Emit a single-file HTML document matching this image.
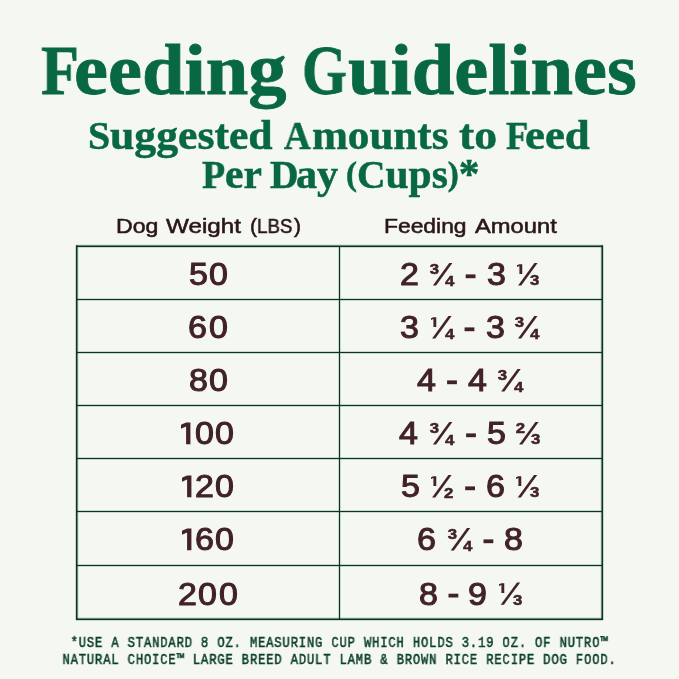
<!DOCTYPE html>
<html>
<head>
<meta charset="utf-8">
<title>Feeding Guidelines</title>
<style>
html,body{margin:0;padding:0;}
body{width:679px;height:679px;background:#f5f7f1;position:relative;overflow:hidden;}
.t{position:absolute;white-space:nowrap;line-height:1;will-change:transform;}
.r{position:absolute;}
.d{font-family:"Liberation Sans",sans-serif;font-weight:400;font-size:30.5px;color:#42222a;-webkit-text-stroke:1.0px #42222a;transform:scaleX(1.115);transform-origin:0 0;}
.fr{font-family:"Liberation Sans",sans-serif;font-weight:700;font-size:15.0px;color:#42222a;-webkit-text-stroke:0.5px #42222a;}
.sl{position:absolute;overflow:visible;}
.fn{position:absolute;will-change:transform;left:0;width:679px;text-align:center;white-space:nowrap;line-height:1;font-family:"Liberation Mono",monospace;font-weight:400;font-size:13.58px;color:#0a3f28;-webkit-text-stroke:0.5px #0a3f28;letter-spacing:0.906px;transform:scale(0.9,1.09);transform-origin:50% 10.40px;}
</style>
</head>
<body>
<div class="t" style="left:41.31px;top:35.98px;font-family:'Liberation Serif';font-weight:700;font-size:70px;-webkit-text-stroke:0.8px #086841;transform:scaleX(0.8872);transform-origin:0 0;color:#086841;">F</div>
<div class="t" style="left:74.47px;top:34.31px;font-family:'Liberation Serif';font-weight:700;font-size:72px;-webkit-text-stroke:0.8px #086841;transform:scaleX(1.0626);transform-origin:0 0;color:#086841;">eeding</div>
<div class="t" style="left:301.73px;top:35.98px;font-family:'Liberation Serif';font-weight:700;font-size:70px;-webkit-text-stroke:0.8px #086841;transform:scaleX(0.8240);transform-origin:0 0;color:#086841;">G</div>
<div class="t" style="left:348.40px;top:34.31px;font-family:'Liberation Serif';font-weight:700;font-size:72px;-webkit-text-stroke:0.8px #086841;transform:scaleX(1.0613);transform-origin:0 0;color:#086841;">uidelines</div>
<div class="t" style="left:88.38px;top:116.62px;font-family:'Liberation Serif';font-weight:700;font-size:39.5px;-webkit-text-stroke:0.5px #086841;transform:scaleX(1.0105);transform-origin:0 0;color:#086841;">S</div>
<div class="t" style="left:110.10px;top:114.95px;font-family:'Liberation Serif';font-weight:700;font-size:41.5px;-webkit-text-stroke:0.5px #086841;transform:scaleX(1.0529);transform-origin:0 0;color:#086841;">uggested</div>
<div class="t" style="left:284.10px;top:116.62px;font-family:'Liberation Serif';font-weight:700;font-size:39.5px;-webkit-text-stroke:0.5px #086841;transform:scaleX(0.9379);transform-origin:0 0;color:#086841;">A</div>
<div class="t" style="left:311.56px;top:114.95px;font-family:'Liberation Serif';font-weight:700;font-size:41.5px;-webkit-text-stroke:0.5px #086841;transform:scaleX(1.0377);transform-origin:0 0;color:#086841;">mounts</div>
<div class="t" style="left:458.80px;top:114.95px;font-family:'Liberation Serif';font-weight:700;font-size:41.5px;-webkit-text-stroke:0.5px #086841;transform:scaleX(1.1000);transform-origin:0 0;color:#086841;">to</div>
<div class="t" style="left:505.50px;top:116.62px;font-family:'Liberation Serif';font-weight:700;font-size:39.5px;-webkit-text-stroke:0.5px #086841;transform:scaleX(0.9174);transform-origin:0 0;color:#086841;">F</div>
<div class="t" style="left:525.12px;top:114.95px;font-family:'Liberation Serif';font-weight:700;font-size:41.5px;-webkit-text-stroke:0.5px #086841;transform:scaleX(1.0814);transform-origin:0 0;color:#086841;">eed</div>
<div class="t" style="left:202.10px;top:156.12px;font-family:'Liberation Serif';font-weight:700;font-size:39.5px;-webkit-text-stroke:0.5px #086841;transform:scaleX(0.9625);transform-origin:0 0;color:#086841;">P</div>
<div class="t" style="left:224.91px;top:154.45px;font-family:'Liberation Serif';font-weight:700;font-size:41.5px;-webkit-text-stroke:0.5px #086841;transform:scaleX(0.9889);transform-origin:0 0;color:#086841;">er</div>
<div class="t" style="left:270.20px;top:156.12px;font-family:'Liberation Serif';font-weight:700;font-size:39.5px;-webkit-text-stroke:0.5px #086841;transform:scaleX(0.9963);transform-origin:0 0;color:#086841;">D</div>
<div class="t" style="left:296.28px;top:154.45px;font-family:'Liberation Serif';font-weight:700;font-size:41.5px;-webkit-text-stroke:0.5px #086841;transform:scaleX(1.0171);transform-origin:0 0;color:#086841;">ay</div>
<div class="t" style="left:346.10px;top:154.45px;font-family:'Liberation Serif';font-weight:700;font-size:41.5px;-webkit-text-stroke:0.5px #086841;transform:scaleX(0.9985);transform-origin:0 0;color:#086841;"><span style="font-size:33px;position:relative;top:-2.6px">(</span><span style="font-size:39.5px">C</span>ups<span style="font-size:33px;position:relative;top:-2.6px">)</span>*</div>
<div class="t" style="left:116.30px;top:214.82px;font-family:'Liberation Sans';font-weight:400;font-size:21px;-webkit-text-stroke:0.55px #2a1519;transform:scaleX(1.1000);transform-origin:0 0;color:#2a1519;">Dog</div>
<div class="t" style="left:166.00px;top:214.82px;font-family:'Liberation Sans';font-weight:400;font-size:21px;-webkit-text-stroke:0.55px #2a1519;transform:scaleX(1.1530);transform-origin:0 0;color:#2a1519;">Weight</div>
<div class="t" style="left:249.90px;top:214.82px;font-family:'Liberation Sans';font-weight:400;font-size:21px;-webkit-text-stroke:0.55px #2a1519;transform:scaleX(1.0000);transform-origin:0 0;color:#2a1519;">(</div>
<div class="t" style="left:257.11px;top:214.82px;font-family:'Liberation Sans';font-weight:400;font-size:21px;-webkit-text-stroke:0.55px #2a1519;transform:scaleX(0.8895);transform-origin:0 0;color:#2a1519;">LBS</div>
<div class="t" style="left:293.70px;top:214.82px;font-family:'Liberation Sans';font-weight:400;font-size:21px;-webkit-text-stroke:0.55px #2a1519;transform:scaleX(1.0000);transform-origin:0 0;color:#2a1519;">)</div>
<div class="t" style="left:384.21px;top:214.82px;font-family:'Liberation Sans';font-weight:400;font-size:21px;-webkit-text-stroke:0.55px #2a1519;transform:scaleX(1.0878);transform-origin:0 0;color:#2a1519;">Feeding</div>
<div class="t" style="left:474.60px;top:214.82px;font-family:'Liberation Sans';font-weight:400;font-size:21px;-webkit-text-stroke:0.55px #2a1519;transform:scaleX(1.1301);transform-origin:0 0;color:#2a1519;">Amount</div>
<svg class="sl" style="left:0;top:0" width="679" height="679" fill="#2f6e50" fill-opacity="0.22"><rect x="76" y="244.5" width="527" height="3.5"/><rect x="76" y="617.5" width="527" height="3.5"/><rect x="75" y="245.5" width="3.5" height="374.5"/><rect x="600.5" y="245.5" width="3.5" height="374.5"/><rect x="338" y="246" width="3" height="373"/><rect x="77" y="298" width="525" height="3"/><rect x="77" y="351" width="525" height="3"/><rect x="77" y="404" width="525" height="3"/><rect x="77" y="457" width="525" height="3"/><rect x="77" y="510" width="525" height="3"/><rect x="77" y="564" width="525" height="3"/></svg>
<svg class="sl" style="left:0;top:0" width="679" height="679" fill="#0a3321"><rect x="76" y="245.5" width="527" height="1.5"/><rect x="76" y="618.5" width="527" height="1.5"/><rect x="76" y="245.5" width="1.5" height="374.5"/><rect x="601.5" y="245.5" width="1.5" height="374.5"/><rect x="339" y="246" width="1" height="373"/><rect x="77" y="299" width="525" height="1"/><rect x="77" y="352" width="525" height="1"/><rect x="77" y="405" width="525" height="1"/><rect x="77" y="458" width="525" height="1"/><rect x="77" y="511" width="525" height="1"/><rect x="77" y="565" width="525" height="1"/></svg>
<div class="t d" style="left:188.90px;top:259.37px">5</div>
<div class="t d" style="left:208.73px;top:259.37px">0</div>
<div class="t d" style="left:188.03px;top:312.37px">6</div>
<div class="t d" style="left:208.73px;top:312.37px">0</div>
<div class="t d" style="left:188.78px;top:365.37px">8</div>
<div class="t d" style="left:208.73px;top:365.37px">0</div>
<svg class="sl" style="left:181.20px;top:422.40px" width="10.0" height="23.0"><polygon points="9.40,0.40 9.40,22.30 5.10,22.30 5.10,4.40 0.00,6.80 0.00,2.80 5.10,0.40" fill="#42222a"/></svg>
<div class="t d" style="left:194.53px;top:418.37px">0</div>
<div class="t d" style="left:215.33px;top:418.37px">0</div>
<svg class="sl" style="left:182.10px;top:475.40px" width="10.0" height="23.0"><polygon points="9.40,0.40 9.40,22.30 5.10,22.30 5.10,4.40 0.00,6.80 0.00,2.80 5.10,0.40" fill="#42222a"/></svg>
<div class="t d" style="left:194.65px;top:471.37px">2</div>
<div class="t d" style="left:214.83px;top:471.37px">0</div>
<svg class="sl" style="left:181.80px;top:528.40px" width="10.0" height="23.0"><polygon points="9.40,0.40 9.40,22.30 5.10,22.30 5.10,4.40 0.00,6.80 0.00,2.80 5.10,0.40" fill="#42222a"/></svg>
<div class="t d" style="left:194.63px;top:524.37px">6</div>
<div class="t d" style="left:214.83px;top:524.37px">0</div>
<div class="t d" style="left:177.65px;top:578.67px">2</div>
<div class="t d" style="left:197.83px;top:578.67px">0</div>
<div class="t d" style="left:218.63px;top:578.67px">0</div>
<div class="t d" style="left:399.85px;top:259.37px">2</div>
<div class="t fr" style="left:408.73px;width:30px;text-align:right;top:261.12px;transform:scaleX(1.12);transform-origin:100% 0">3</div>
<div class="t fr" style="left:445.33px;top:272.55px;transform:scaleX(1.12);transform-origin:0 0">4</div>
<div class="t d" style="left:486.96px;top:259.37px">3</div>
<svg class="sl" style="left:516.70px;top:263.50px" width="4.5" height="10.3"><polygon points="5.26,0.18 5.26,10.04 2.41,10.04 2.41,1.98 0.00,3.06 0.00,1.26 2.41,0.18" fill="#42222a"/></svg>
<div class="t fr" style="left:530.39px;top:272.38px;transform:scaleX(1.12);transform-origin:0 0">3</div>
<div class="t d" style="left:400.46px;top:312.37px">3</div>
<svg class="sl" style="left:430.70px;top:316.50px" width="4.5" height="10.3"><polygon points="5.26,0.18 5.26,10.04 2.41,10.04 2.41,1.98 0.00,3.06 0.00,1.26 2.41,0.18" fill="#42222a"/></svg>
<div class="t fr" style="left:444.53px;top:325.55px;transform:scaleX(1.12);transform-origin:0 0">4</div>
<div class="t d" style="left:485.96px;top:312.37px">3</div>
<div class="t fr" style="left:493.83px;width:30px;text-align:right;top:314.12px;transform:scaleX(1.12);transform-origin:100% 0">3</div>
<div class="t fr" style="left:530.43px;top:325.55px;transform:scaleX(1.12);transform-origin:0 0">4</div>
<div class="t d" style="left:417.18px;top:365.37px">4</div>
<div class="t d" style="left:468.08px;top:365.37px">4</div>
<div class="t fr" style="left:477.03px;width:30px;text-align:right;top:367.12px;transform:scaleX(1.12);transform-origin:100% 0">3</div>
<div class="t fr" style="left:513.63px;top:378.55px;transform:scaleX(1.12);transform-origin:0 0">4</div>
<div class="t d" style="left:399.18px;top:418.37px">4</div>
<div class="t fr" style="left:408.73px;width:30px;text-align:right;top:420.12px;transform:scaleX(1.12);transform-origin:100% 0">3</div>
<div class="t fr" style="left:445.33px;top:431.55px;transform:scaleX(1.12);transform-origin:0 0">4</div>
<div class="t d" style="left:487.00px;top:418.37px">5</div>
<div class="t fr" style="left:494.99px;width:30px;text-align:right;top:420.12px;transform:scaleX(1.12);transform-origin:100% 0">2</div>
<div class="t fr" style="left:531.39px;top:431.38px;transform:scaleX(1.12);transform-origin:0 0">3</div>
<div class="t d" style="left:401.30px;top:471.37px">5</div>
<svg class="sl" style="left:430.70px;top:475.50px" width="4.5" height="10.3"><polygon points="5.26,0.18 5.26,10.04 2.41,10.04 2.41,1.98 0.00,3.06 0.00,1.26 2.41,0.18" fill="#42222a"/></svg>
<div class="t fr" style="left:444.20px;top:484.55px;transform:scaleX(1.12);transform-origin:0 0">2</div>
<div class="t d" style="left:485.53px;top:471.37px">6</div>
<svg class="sl" style="left:516.30px;top:475.50px" width="4.5" height="10.3"><polygon points="5.26,0.18 5.26,10.04 2.41,10.04 2.41,1.98 0.00,3.06 0.00,1.26 2.41,0.18" fill="#42222a"/></svg>
<div class="t fr" style="left:529.99px;top:484.38px;transform:scaleX(1.12);transform-origin:0 0">3</div>
<div class="t d" style="left:416.93px;top:524.37px">6</div>
<div class="t fr" style="left:426.53px;width:30px;text-align:right;top:526.12px;transform:scaleX(1.12);transform-origin:100% 0">3</div>
<div class="t fr" style="left:463.13px;top:537.55px;transform:scaleX(1.12);transform-origin:0 0">4</div>
<div class="t d" style="left:504.28px;top:524.37px">8</div>
<div class="t d" style="left:418.68px;top:578.67px">8</div>
<div class="t d" style="left:468.06px;top:578.67px">9</div>
<svg class="sl" style="left:499.30px;top:582.80px" width="4.5" height="10.3"><polygon points="5.26,0.18 5.26,10.04 2.41,10.04 2.41,1.98 0.00,3.06 0.00,1.26 2.41,0.18" fill="#42222a"/></svg>
<div class="t fr" style="left:512.99px;top:591.68px;transform:scaleX(1.12);transform-origin:0 0">3</div>
<svg class="sl" style="left:0;top:0" width="679" height="679" fill="#42222a"><rect x="465.70" y="274.40" width="9.8" height="3.8"/><rect x="464.60" y="327.40" width="9.8" height="3.8"/><rect x="447.10" y="380.40" width="9.8" height="3.8"/><rect x="466.10" y="433.40" width="9.8" height="3.8"/><rect x="465.20" y="486.40" width="9.8" height="3.8"/><rect x="483.50" y="539.40" width="9.8" height="3.8"/><rect x="448.50" y="593.70" width="9.8" height="3.8"/><polygon points="449.20,263.10 452.40,263.10 436.10,285.40 432.90,285.40"/><polygon points="534.40,263.10 537.60,263.10 521.30,285.40 518.10,285.40"/><polygon points="448.40,316.10 451.60,316.10 435.30,338.40 432.10,338.40"/><polygon points="534.30,316.10 537.50,316.10 521.20,338.40 518.00,338.40"/><polygon points="517.50,369.10 520.70,369.10 504.40,391.40 501.20,391.40"/><polygon points="449.20,422.10 452.40,422.10 436.10,444.40 432.90,444.40"/><polygon points="535.40,422.10 538.60,422.10 522.30,444.40 519.10,444.40"/><polygon points="448.40,475.10 451.60,475.10 435.30,497.40 432.10,497.40"/><polygon points="534.00,475.10 537.20,475.10 520.90,497.40 517.70,497.40"/><polygon points="467.00,528.10 470.20,528.10 453.90,550.40 450.70,550.40"/><polygon points="517.00,582.40 520.20,582.40 503.90,604.70 500.70,604.70"/></svg>
<div class="fn" style="top:637.10px">*USE A STANDARD 8 OZ. MEASURING CUP WHICH HOLDS 3.19 OZ. OF NUTRO™</div>
<div class="fn" style="top:653.50px">NATURAL CHOICE™ LARGE BREED ADULT LAMB &amp; BROWN RICE RECIPE DOG FOOD.</div>
</body>
</html>
